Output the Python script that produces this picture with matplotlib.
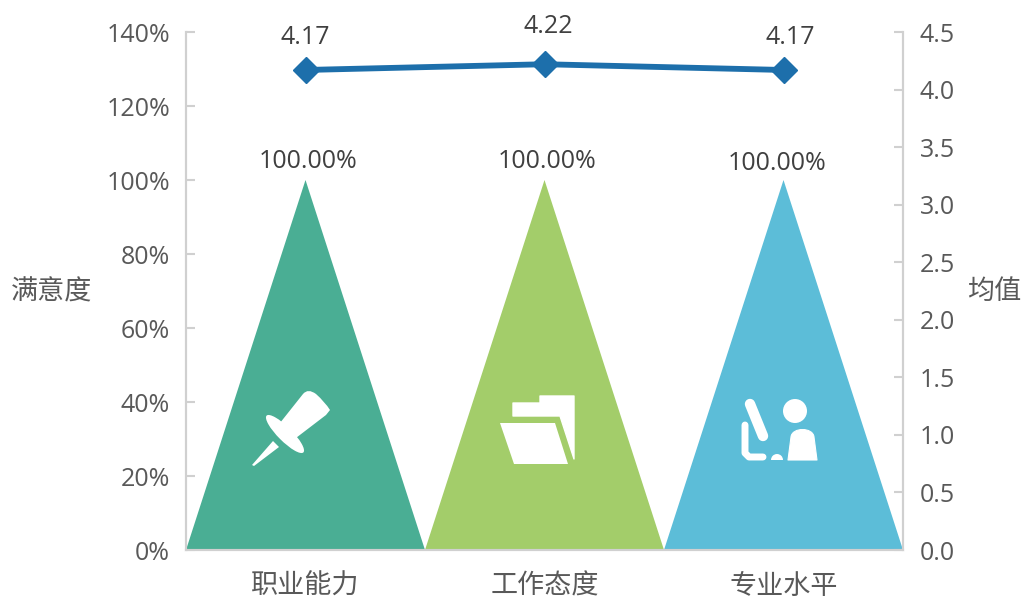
import matplotlib
matplotlib.use('Agg')
import matplotlib.pyplot as plt
from matplotlib.patches import Polygon, Circle, Ellipse, Wedge, PathPatch
from matplotlib.path import Path

plt.rcParams['font.family'] = ['Open Sans', 'Noto Sans CJK SC', 'DejaVu Sans']

categories = ['职业能力', '工作态度', '专业水平']
satisfaction = [100.0, 100.0, 100.0]
means = [4.17, 4.22, 4.17]
tri_colors = ['#4AAE94', '#A3CD6A', '#5CBDD8']
left_ticks = [0, 20, 40, 60, 80, 100, 120, 140]
right_ticks = [0.0, 0.5, 1.0, 1.5, 2.0, 2.5, 3.0, 3.5, 4.0, 4.5]

W, H = 1023, 599
text_color = '#595959'
label_color = '#404040'
axis_color = '#D0D0D0'
px = 72 / 100  # one pixel in points

fig = plt.figure(figsize=(W / 100, H / 100), dpi=100)
ax = fig.add_axes([186 / W, 1 - 550 / H, (903 - 186) / W, (550 - 32) / H])
ax.set_xlim(-0.5, 2.5)
ax.set_ylim(0, 140)

# triangles, the labels were moved by hand in the original
sat_offsets = [(3, 19), (3, 19), (-6, 17)]
for i, v in enumerate(satisfaction):
    ax.add_patch(Polygon([(i - 0.5, 0), (i, v), (i + 0.5, 0)], closed=True,
                         facecolor=tri_colors[i], edgecolor='none', zorder=2))
    ax.annotate('%.2f%%' % v, (i, v), xytext=(sat_offsets[i][0] * px, sat_offsets[i][1] * px),
                textcoords='offset points', ha='center', va='center',
                fontsize=18, color=label_color)

ax.set_xticks(range(3))
ax.set_xticklabels(categories, fontsize=19.5, color=text_color)
ax.tick_params(axis='x', length=0, pad=16.5)
ax.set_yticks(left_ticks)
ax.set_yticklabels(['%d%%' % t for t in left_ticks], fontsize=18, color=text_color)
ax.tick_params(axis='y', direction='in', length=6.5, width=1.5, color=axis_color, pad=11.5)

ax2 = ax.twinx()
ax2.set_ylim(0, 4.5)
ax2.plot(range(3), means, color='#1D6FAB', lw=4.2, marker='D', ms=13.5, mec='#1D6FAB', zorder=5)
mean_offsets = [(0, 32), (4, 38), (7, 32)]
for i, m in enumerate(means):
    ax2.annotate('%.2f' % m, (i, m), xytext=(mean_offsets[i][0] * px, mean_offsets[i][1] * px),
                 textcoords='offset points', ha='center', va='center',
                 fontsize=18, color=label_color)
ax2.set_yticks(right_ticks)
ax2.set_yticklabels(['%.1f' % t for t in right_ticks], fontsize=18, color=text_color)
ax2.tick_params(axis='y', direction='in', length=6.5, width=1.5, color=axis_color, pad=12)

for a in (ax, ax2):
    a.spines['top'].set_visible(False)
    for s in ('left', 'right', 'bottom'):
        a.spines[s].set_color(axis_color)
        a.spines[s].set_linewidth(1.5)

fig.text(52 / W, 1 - 292 / H, '满意度', ha='center', va='center', fontsize=19.5, color=text_color)
fig.text(994 / W, 1 - 292 / H, '均值', ha='center', va='center', fontsize=19.5, color=text_color)

# overlay in pixel coords for the white icons
ov = fig.add_axes([0, 0, 1, 1], zorder=10)
ov.set_xlim(0, W)
ov.set_ylim(H, 0)
ov.axis('off')
ov.patch.set_alpha(0)

# pin
ov.add_patch(Polygon([(252, 465), (273, 441), (279, 447), (254, 466)], fc='white', ec='none'))
ov.add_patch(Ellipse((285, 434), 52, 14, angle=45, fc='white', ec='none'))
ov.add_patch(PathPatch(Path(
    [(276, 428), (303, 394), (308, 388), (316, 394), (325, 402), (330, 410), (326, 415), (292, 441), (276, 428)],
    [Path.MOVETO, Path.LINETO, Path.CURVE3, Path.CURVE3, Path.CURVE3, Path.CURVE3, Path.LINETO, Path.LINETO, Path.CLOSEPOLY]),
    fc='white', ec='none'))

# folder
ov.add_patch(Polygon([(513, 403), (540, 403), (540, 396), (574, 396), (574, 459), (560, 416), (513, 416)],
                     fc='white', ec='white', lw=1, joinstyle='round'))
ov.add_patch(Polygon([(500, 423), (555, 423), (568, 464), (514, 464)], fc='white', ec='none'))

# person at desk
ov.plot([750, 763], [404, 436], color='white', lw=7.5, solid_capstyle='round')
ov.plot([745, 745, 749, 763], [425, 453, 457, 457], color='white', lw=5,
        solid_capstyle='round', solid_joinstyle='round')
ov.add_patch(Circle((795, 411), 12, fc='white', ec='none'))
ov.add_patch(PathPatch(Path(
    [(788, 460), (791, 437), (792, 427), (813, 427), (814, 437), (817, 460), (788, 460)],
    [Path.MOVETO, Path.LINETO, Path.CURVE4, Path.CURVE4, Path.CURVE4, Path.LINETO, Path.CLOSEPOLY]),
    fc='white', ec='white', lw=0.8, joinstyle='round'))
ov.add_patch(Wedge((777, 460), 6, 180, 360, fc='white', ec='none'))

fig.savefig('out.png', dpi=100)
